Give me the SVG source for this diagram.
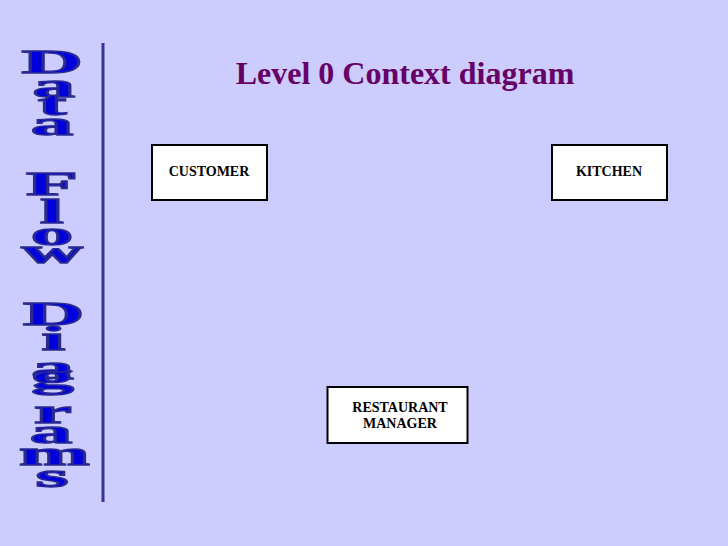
<svg xmlns="http://www.w3.org/2000/svg" width="728" height="546" viewBox="0 0 728 546">
<style>
.bg{fill:#CCCCFF}
.box{fill:#FFFFFF;stroke:#000000;stroke-width:2}
.lbl{font-family:"Liberation Serif","Times New Roman",serif;font-weight:bold;font-size:14px;fill:#000000;text-anchor:middle}
.title{font-family:"Liberation Serif","Times New Roman",serif;font-weight:bold;font-size:32px;fill:#660066;text-anchor:middle}
.side{font-family:"Liberation Serif","Times New Roman",serif;font-weight:bold;font-size:34px;fill:#0000DD;stroke:#2B2B8F;stroke-width:1.3;vector-effect:non-scaling-stroke}
</style>
<rect class="bg" x="0" y="0" width="728" height="546"/>
<g id="side-title" transform="scale(2.5,1)">
<text class="side"><tspan x="8.6" y="73">D</tspan><tspan x="13" y="97">a</tspan><tspan x="15.2" y="115">t</tspan><tspan x="12.3" y="135">a</tspan> <tspan x="10.4" y="195">F</tspan><tspan x="16" y="223">l</tspan><tspan x="12.3" y="245">o</tspan><tspan x="8.6" y="263">w</tspan> <tspan x="9.2" y="325">D</tspan><tspan x="16.6" y="350">i</tspan><tspan x="12.5" y="379">a</tspan><tspan x="12.5" y="388">g</tspan><tspan x="13.6" y="423">r</tspan><tspan x="11.9" y="443">a</tspan><tspan x="7.6" y="465">m</tspan><tspan x="14.2" y="487">s</tspan></text>
</g>
<line x1="103" y1="43" x2="103" y2="502" stroke="#333399" stroke-width="3"/>
<text class="title" x="405" y="84">Level 0 Context diagram</text>
<g id="customer">
<rect class="box" x="152" y="145" width="115" height="55"/>
<text class="lbl" x="209" y="175.5">CUSTOMER</text>
</g>
<g id="kitchen">
<rect class="box" x="552" y="145" width="115" height="55"/>
<text class="lbl" x="609" y="175.5">KITCHEN</text>
</g>
<g id="restaurant-manager">
<rect class="box" x="327.5" y="387" width="140" height="56"/>
<text class="lbl" x="400" y="411.5">RESTAURANT</text>
<text class="lbl" x="400" y="428">MANAGER</text>
</g>
<g id="connectors"></g>
</svg>
